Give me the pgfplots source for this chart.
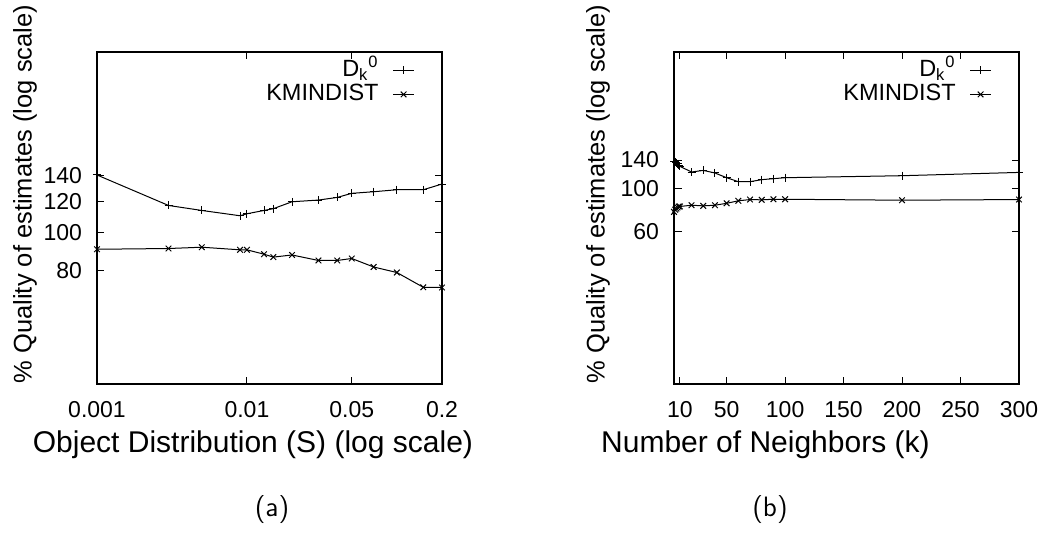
\documentclass[border=0pt]{standalone}
\usepackage{fontspec}
\setmainfont{Liberation Sans}
\usepackage{pgfplots}
\pgfplotsset{compat=1.18}

\pgfplotstableread{
x y
0.001 140.5
0.003 117.4
0.005 114
0.009 110.5
0.01 111.8
0.013 114
0.015 115.2
0.02 120
0.03 121.2
0.04 123.1
0.05 126.1
0.07 127.3
0.1 128.8
0.15 128.8
0.2 133.2
}\leftD
\pgfplotstableread{
x y
0.001 90.7
0.003 91.1
0.005 91.8
0.009 90.4
0.01 90.4
0.013 88.1
0.015 86.6
0.02 87.7
0.03 84.9
0.04 84.9
0.05 85.9
0.07 81.7
0.1 79.1
0.15 72.5
0.2 72.4
}\leftK
\pgfplotstableread{
x y
5 138
6 137
7 136
8 134
9 132
10 130
20 121.6
30 123.9
40 120.2
50 113.7
60 108.5
70 108.5
80 111.1
90 112.4
100 113.7
200 116.4
300 121
}\rightD
\pgfplotstableread{
x y
5 76
6 78
7 79
8 80
9 81
10 81
20 82.2
30 81.6
40 82.2
50 84.1
60 86.6
70 87.9
80 87.6
90 88.2
100 88.2
200 87.2
300 87.9
}\rightK

\pgfplotsset{
  gp/.style={
    scale only axis, width=172.5pt, height=166pt,
    axis line style={line width=0.6pt},
    tick align=inside, major tick length=3.75pt,
    tick style={black, line width=0.5pt},
    minor tick num=0,
    /pgf/number format/assume math mode=true,
    tick label style={font=\fontsize{11.5}{13}\selectfont},
    yticklabel style={xshift=-4pt},
    xticklabel style={yshift=-5pt},
    xlabel style={font=\fontsize{15}{17}\selectfont},
    ylabel style={font=\fontsize{12.75}{15}\selectfont, anchor=center},
    legend style={draw=none, fill=none, at={(1,1)}, anchor=north east,
      xshift=-13.5pt, yshift=-3pt, inner sep=0pt,
      column sep=6pt, row sep=0pt,
      font=\fontsize{11.75}{13}\selectfont,
      nodes={inner sep=1pt, text height=8pt, text depth=2pt}},
    legend cell align=right,
    legend plot pos=right,
    legend image code/.code={\draw[mark repeat=2,mark phase=2] plot coordinates {(0pt,0pt) (5.25pt,0pt) (10.5pt,0pt)};},
    every axis plot/.append style={black, line width=0.5pt, mark size=2pt},
  }
}

\begin{document}
\begin{tikzpicture}
\useasboundingbox (-48.5pt,-85pt) rectangle (475.5pt,192pt);
\begin{axis}[gp,
  xmode=log, ymode=log,
  xmin=0.001, xmax=0.2, ymin=41, ymax=290,
  xtick={0.001,0.01,0.05,0.2}, xticklabels={0.001,0.01,0.05,0.2},
  ytick={80,100,120,140}, yticklabels={80,100,120,140},
  xlabel={Object Distribution (S) (log scale)},
  xlabel style={at={(ticklabel cs:0.452)}},
  ylabel={\% Quality of estimates (log scale)},
  ylabel style={at={([xshift=-36pt]axis description cs:0,0.572)}},
]
\addplot[mark=+] table {\leftD};
\addlegendentry{D\textsubscript{k}\textsuperscript{0}}
\addplot[mark=x] table {\leftK};
\addlegendentry{KMINDIST}
\end{axis}
\begin{axis}[gp, at={(288.5pt,0pt)},
  ymode=log,
  xmin=5, xmax=300, ymin=10, ymax=500,
  xtick={10,50,100,150,200,250,300},
  xticklabels={10,50,100,150,200,250,300},
  ytick={60,100,140}, yticklabels={60,100,140},
  xlabel={Number of Neighbors (k)},
  xlabel style={at={(ticklabel cs:0.265)}},
  ylabel={\% Quality of estimates (log scale)},
  ylabel style={at={([xshift=-38pt]axis description cs:0,0.572)}},
]
\addplot[mark=+] table {\rightD};
\addlegendentry{D\textsubscript{k}\textsuperscript{0}}
\addplot[mark=x] table {\rightK};
\addlegendentry{KMINDIST}
\end{axis}
\node[font=\sffamily\fontsize{14}{16}\selectfont] at (87.5pt,-63pt) {(a)};
\node[font=\sffamily\fontsize{14}{16}\selectfont] at (336.5pt,-63pt) {(b)};
\end{tikzpicture}
\end{document}
